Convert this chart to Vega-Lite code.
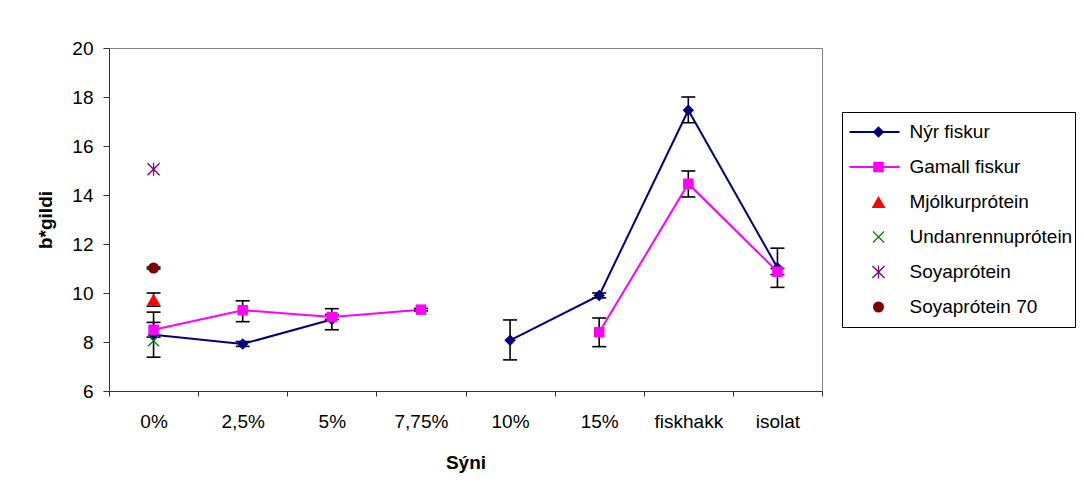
{
  "$schema": "https://vega.github.io/schema/vega-lite/v6.json",
  "autosize": "none",
  "width": 713,
  "height": 343,
  "padding": {"left": 109, "top": 48, "right": 262, "bottom": 104},
  "background": "white",
  "config": {
    "font": "Liberation Sans",
    "view": {"stroke": "#808080", "strokeWidth": 1},
    "axis": {
      "labelFont": "Liberation Sans", "labelFontSize": 19, "labelColor": "black",
      "titleFont": "Liberation Sans", "titleFontSize": 19, "titleFontWeight": "bold", "titleColor": "black",
      "domainColor": "#333333", "tickColor": "#333333", "grid": false
    }
  },
  "data": {
    "values": [
      {"series": "Nýr fiskur", "cat": "0%", "b": 8.3, "lo": 7.38, "hi": 9.22, "seg": "a"},
      {"series": "Nýr fiskur", "cat": "2,5%", "b": 7.92, "lo": 7.82, "hi": 8.02, "seg": "a"},
      {"series": "Nýr fiskur", "cat": "5%", "b": 8.92, "lo": 8.5, "hi": 9.36, "seg": "a"},
      {"series": "Nýr fiskur", "cat": "10%", "b": 8.07, "lo": 7.27, "hi": 8.9, "seg": "b"},
      {"series": "Nýr fiskur", "cat": "15%", "b": 9.9, "lo": 9.8, "hi": 10.0, "seg": "b"},
      {"series": "Nýr fiskur", "cat": "fiskhakk", "b": 17.46, "lo": 16.95, "hi": 18.0, "seg": "b"},
      {"series": "Nýr fiskur", "cat": "isolat", "b": 11.03, "lo": 10.23, "hi": 11.83, "seg": "b"},
      {"series": "Gamall fiskur", "cat": "0%", "b": 8.5, "lo": 8.2, "hi": 8.8, "seg": "a"},
      {"series": "Gamall fiskur", "cat": "2,5%", "b": 9.3, "lo": 8.83, "hi": 9.68, "seg": "a"},
      {"series": "Gamall fiskur", "cat": "5%", "b": 9.02, "lo": 8.92, "hi": 9.12, "seg": "a"},
      {"series": "Gamall fiskur", "cat": "7,75%", "b": 9.32, "lo": 9.27, "hi": 9.37, "seg": "a"},
      {"series": "Gamall fiskur", "cat": "15%", "b": 8.4, "lo": 7.81, "hi": 8.98, "seg": "b"},
      {"series": "Gamall fiskur", "cat": "fiskhakk", "b": 14.46, "lo": 13.92, "hi": 14.98, "seg": "b"},
      {"series": "Gamall fiskur", "cat": "isolat", "b": 10.87, "lo": 10.75, "hi": 11.0, "seg": "b"},
      {"series": "Mjólkurprótein", "cat": "0%", "b": 9.73, "lo": 9.46, "hi": 10.0, "seg": "a"},
      {"series": "Undanrennuprótein", "cat": "0%", "b": 8.05, "lo": null, "hi": null, "seg": "a"},
      {"series": "Soyaprótein", "cat": "0%", "b": 15.05, "lo": null, "hi": null, "seg": "a"},
      {"series": "Soyaprótein 70", "cat": "0%", "b": 11.02, "lo": 10.98, "hi": 11.06, "seg": "a"}
    ]
  },
  "encoding": {
    "x": {
      "field": "cat", "type": "nominal",
      "scale": {"type": "band", "domain": ["0%", "2,5%", "5%", "7,75%", "10%", "15%", "fiskhakk", "isolat"], "paddingInner": 0, "paddingOuter": 0},
      "axis": {"title": "Sýni", "labelAngle": 0, "tickBand": "extent", "tickSize": 5, "labelPadding": 16, "titlePadding": 22}
    }
  },
  "layer": [
    {
      "transform": [{"filter": "datum.series === 'Nýr fiskur' || datum.series === 'Gamall fiskur'"}],
      "mark": {"type": "line", "strokeWidth": 2},
      "encoding": {
        "y": {
          "field": "b", "type": "quantitative",
          "scale": {"domain": [6, 20], "nice": false, "zero": false},
          "axis": {"title": "b*gildi", "values": [6, 8, 10, 12, 14, 16, 18, 20], "tickSize": 6, "labelPadding": 10, "titlePadding": 16}
        },
        "stroke": {
          "field": "series", "type": "nominal",
          "scale": {"domain": ["Nýr fiskur", "Gamall fiskur"], "range": ["#000080", "#FF00FF"]},
          "legend": {"title": null, "orient": "none", "legendX": 737, "legendY": 64, "symbolType": "stroke", "symbolSize": 2500, "symbolStrokeWidth": 2, "labelExpr": "''", "padding": 2.5, "clipHeight": 35, "rowPadding": 0, "labelFontSize": 19, "symbolOffset": 0, "labelOffset": 0}
        },
        "detail": {"field": "seg", "type": "nominal"}
      }
    },
    {
      "transform": [{"filter": "isValid(datum.lo)"}],
      "mark": {"type": "rule", "color": "black", "strokeWidth": 1.6},
      "encoding": {
        "y": {"field": "lo", "type": "quantitative"},
        "y2": {"field": "hi"}
      }
    },
    {
      "transform": [{"filter": "isValid(datum.lo)"}],
      "mark": {"type": "tick", "color": "black", "size": 14, "thickness": 1.6, "opacity": 1},
      "encoding": {"y": {"field": "lo", "type": "quantitative"}}
    },
    {
      "transform": [{"filter": "isValid(datum.hi)"}],
      "mark": {"type": "tick", "color": "black", "size": 14, "thickness": 1.6, "opacity": 1},
      "encoding": {"y": {"field": "hi", "type": "quantitative"}}
    },
    {
      "mark": {"type": "point", "filled": true, "opacity": 1, "strokeWidth": 0.5},
      "encoding": {
        "y": {"field": "b", "type": "quantitative"},
        "color": {
          "field": "series", "type": "nominal",
          "scale": {"domain": ["Nýr fiskur", "Gamall fiskur", "Mjólkurprótein", "Undanrennuprótein", "Soyaprótein", "Soyaprótein 70"], "range": ["#000080", "#FF00FF", "#FF0000", "#008000", "#800080", "#800000"]},
          "legend": {"title": null, "orient": "none", "legendX": 733, "legendY": 64, "labelFontSize": 19, "labelColor": "black", "labelFont": "Liberation Sans", "labelLimit": 400, "strokeColor": "black", "padding": 2.5, "clipHeight": 35, "rowPadding": 0, "symbolOffset": 24.5, "labelOffset": 21.5}
        },
        "shape": {
          "field": "series", "type": "nominal",
          "scale": {"domain": ["Nýr fiskur", "Gamall fiskur", "Mjólkurprótein", "Undanrennuprótein", "Soyaprótein", "Soyaprótein 70"], "range": ["diamond", "square", "triangle-up", "M-1,-0.85L0.85,1L1,0.85L-0.85,-1ZM1,-0.85L0.85,-1L-1,0.85L-0.85,1Z", "M-1,-0.85L0.85,1L1,0.85L-0.85,-1ZM1,-0.85L0.85,-1L-1,0.85L-0.85,1ZM-0.1,-1L-0.1,1L0.1,1L0.1,-1Z", "circle"]},
          "legend": {"title": null, "orient": "none", "legendX": 733, "legendY": 64, "labelFontSize": 19, "labelColor": "black", "labelFont": "Liberation Sans", "labelLimit": 400, "strokeColor": "black", "padding": 2.5, "clipHeight": 35, "rowPadding": 0, "symbolOffset": 24.5, "labelOffset": 21.5}
        },
        "size": {
          "field": "series", "type": "nominal",
          "scale": {"type": "ordinal", "domain": ["Nýr fiskur", "Gamall fiskur", "Mjólkurprótein", "Undanrennuprótein", "Soyaprótein", "Soyaprótein 70"], "range": [130, 110, 190, 144, 170, 121]},
          "legend": {"title": null, "orient": "none", "legendX": 733, "legendY": 64, "labelFontSize": 19, "labelColor": "black", "labelFont": "Liberation Sans", "labelLimit": 400, "strokeColor": "black", "padding": 2.5, "clipHeight": 35, "rowPadding": 0, "symbolOffset": 24.5, "labelOffset": 21.5}
        }
      }
    }
  ]
}
